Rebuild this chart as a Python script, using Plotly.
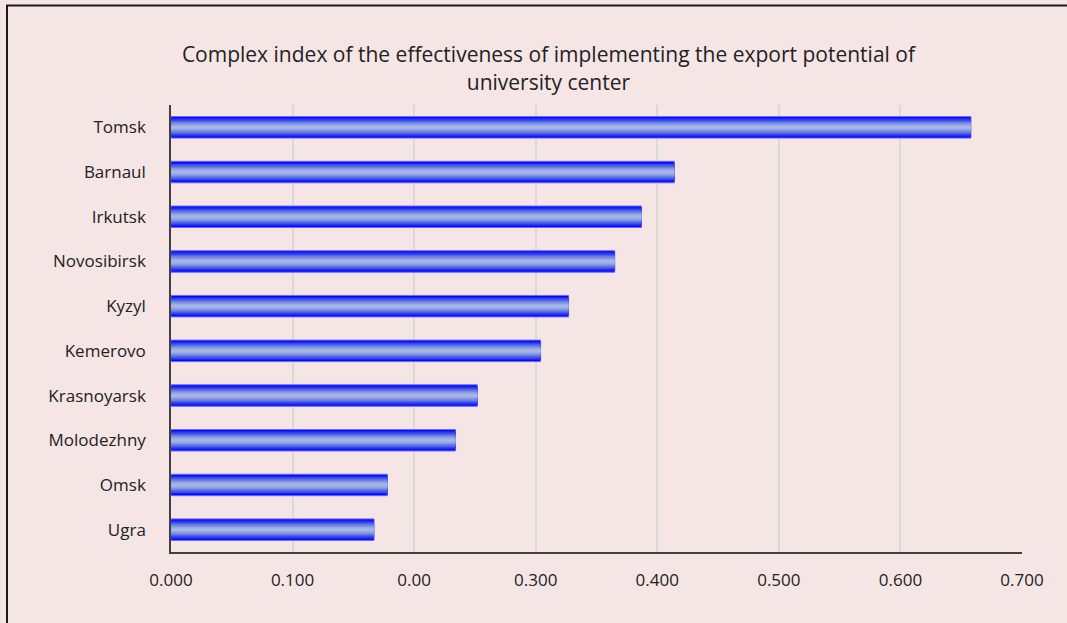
import plotly.graph_objects as go

cities = ["Tomsk", "Barnaul", "Irkutsk", "Novosibirsk", "Kyzyl", "Kemerovo",
          "Krasnoyarsk", "Molodezhny", "Omsk", "Ugra"]
index_values = [0.658, 0.414, 0.387, 0.365, 0.327, 0.304, 0.252, 0.234, 0.178, 0.167]
tick_values = [0.0, 0.1, 0.2, 0.3, 0.4, 0.5, 0.6, 0.7]
tick_labels = ["0.000", "0.100", "0.00", "0.300", "0.400", "0.500", "0.600", "0.700"]
title_text = "Complex index of the effectiveness of implementing the export potential of<br>university center"

FONT = "'Open Sans', 'Noto Sans', sans-serif"
BG = "#F5E5E5"

# layered bars to imitate the gradient fill (dark edges, light centre)
layers = [
    (0.48, "#0000FF"),
    (0.42, "#1A22F4"),
    (0.36, "#3344EE"),
    (0.30, "#4F62E8"),
    (0.24, "#6A7EE4"),
    (0.18, "#8496E2"),
    (0.12, "#97A8E2"),
    (0.06, "#A4B6E4"),
]

fig = go.Figure()
for i, (w, c) in enumerate(layers):
    fig.add_trace(go.Bar(
        x=index_values, y=cities, orientation="h", width=w,
        marker=dict(color=c, line=dict(color="#6B6BFF" if i == 0 else c, width=1 if i == 0 else 0)),
        showlegend=False, hoverinfo="x+y",
    ))

fig.update_layout(
    width=1067, height=623,
    paper_bgcolor=BG, plot_bgcolor=BG,
    barmode="overlay",
    margin=dict(l=171, r=45, t=105, b=71),
    font=dict(family=FONT, size=17, color="#222222"),
    title=dict(text=title_text, x=0.514, xanchor="center", y=0.9, yanchor="top",
               font=dict(family=FONT, size=21, color="#222222")),
    xaxis=dict(range=[0, 0.7], tickvals=tick_values, ticktext=tick_labels,
               showgrid=True, gridcolor="#D9D9D9", gridwidth=2, zeroline=False,
               showline=True, linecolor="#404040", linewidth=1.5, ticks="",
               ticklabelstandoff=12, tickfont=dict(size=17)),
    yaxis=dict(range=[9.5, -0.5], showgrid=False, zeroline=False,
               showline=True, linecolor="#404040", linewidth=1.5, ticks="",
               ticklabelstandoff=20, tickfont=dict(size=17)),
    shapes=[dict(type="rect", xref="paper", yref="paper",
                 x0=(7 - 171) / 851, x1=(1075 - 171) / 851,
                 y0=(552 - 630) / 447, y1=(552 - 5.5) / 447,
                 line=dict(color="#1A1A1A", width=2), layer="below")],
)

fig.write_html("out.html")
